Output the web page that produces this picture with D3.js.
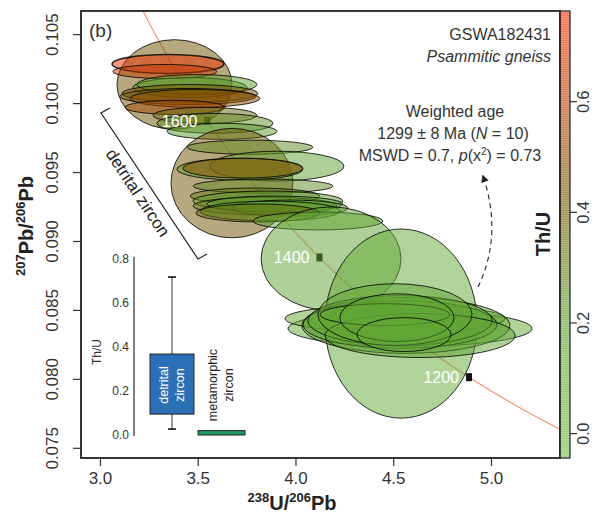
<!DOCTYPE html>
<html><head><meta charset="utf-8">
<script src="https://cdn.jsdelivr.net/npm/d3@7"></script>
<style>body{margin:0;background:#fff}svg{font-family:"Liberation Sans",Arial,sans-serif}</style>
</head><body><svg id="c" width="601" height="516"></svg>
<script>
// ---- data ----
const xTicks = [3.0, 3.5, 4.0, 4.5, 5.0];
const yTicks = [0.075, 0.080, 0.085, 0.090, 0.095, 0.100, 0.105];
const cbTicks = [0.0, 0.2, 0.4, 0.6];
const ageLabels = [1200, 1400, 1600];
// ellipse centres (238U/206Pb, 207Pb/206Pb), half axes and Th/U
const ellX  = [3.381,3.348,3.332,3.460,3.496,3.460,3.450,3.486,3.384,3.537,3.588,3.624,
               3.675,3.767,3.905,3.716,3.731,3.834,3.793,3.859,3.844,3.895,3.972,3.870,3.808,4.115,
               4.182,4.540,
               4.586,4.509,4.565,4.535,4.535,4.637,4.509,4.458,4.519,4.555];
const ellY  = [0.10135,0.10283,0.10229,0.10113,0.10135,0.10070,0.10048,0.10034,0.09969,0.09911,0.09853,0.09795,
               0.09420,0.09680,0.09543,0.09521,0.09528,0.09398,0.09326,0.09290,0.09254,0.09268,0.09239,0.09217,0.09203,0.09145,
               0.08871,0.08401,
               0.08365,0.08437,0.08387,0.08394,0.08423,0.08314,0.08466,0.08466,0.08444,0.08321];
const ellSX = [0.294,0.286,0.266,0.292,0.307,0.348,0.348,0.332,0.256,0.266,0.297,0.281,
               0.312,0.322,0.343,0.322,0.307,0.358,0.332,0.384,0.368,0.348,0.297,0.358,0.317,0.332,
               0.358,0.389,
               0.624,0.563,0.532,0.496,0.471,0.486,0.394,0.332,0.292,0.240];
const ellSY = [0.00325,0.00069,0.00051,0.00072,0.00072,0.00065,0.00058,0.00065,0.00051,0.00058,0.00072,0.00058,
               0.00397,0.00051,0.00108,0.00079,0.00072,0.00051,0.00058,0.00072,0.00065,0.00058,0.00058,0.00072,0.00065,0.00065,
               0.00376,0.00686,
               0.00130,0.00101,0.00202,0.00173,0.00181,0.00159,0.00224,0.00079,0.00173,0.00123];
const ellThU = [0.42,0.74,0.65,0.22,0.18,0.45,0.40,0.50,0.55,0.35,0.25,0.20,
                0.42,0.25,0.15,0.22,0.50,0.25,0.30,0.20,0.30,0.10,0.20,0.15,0.35,0.15,
                0.12,0.10,
                0.10,0.10,0.12,0.15,0.08,0.12,0.13,0.10,0.11,0.10];
// inset box plot of Th/U
const boxGroups = ["detrital zircon", "metamorphic zircon"];
const boxLow = [0.095, 0.0];
const boxHigh = [0.368, 0.02];
const whiskLow = [0.027, null];
const whiskHigh = [0.718, null];
const insetTicks = [0.0, 0.2, 0.4, 0.6, 0.8];

// ---- layout ----
const svg = d3.select("#c");
const L = 81, R = 560, T = 11, B = 458;
const x = d3.scaleLinear().domain([2.903, 5.353]).range([L, R]);
const y = d3.scaleLinear().domain([0.07426, 0.10668]).range([B, T]);
const col = d3.scaleLinear().domain([-0.045, 0.2, 0.42, 0.763])
  .range(["#6bb941", "#5a9a2c", "#6e5400", "#f02a00"]).interpolate(d3.interpolateRgb);
const FA = 0.5;

svg.append("defs").append("clipPath").attr("id","pc")
  .append("rect").attr("x",L).attr("y",T).attr("width",R-L).attr("height",B-T);
const plot = svg.append("g").attr("clip-path","url(#pc)");

// concordia (Tera-Wasserburg)
const l238 = 1.55125e-10, l235 = 9.8485e-10, U85 = 137.88;
const conc = t => { const a = Math.exp(l238*t*1e6)-1, b = Math.exp(l235*t*1e6)-1; return [1/a, b/a/U85]; };
const ts = d3.range(900, 2001, 5);
plot.append("path").datum(ts.map(conc))
  .attr("d", d3.line().x(d=>x(d[0])).y(d=>y(d[1])))
  .attr("fill","none").attr("stroke","#f3916f").attr("stroke-width",1.1);
plot.selectAll("rect.age").data(ageLabels).join("rect")
  .attr("x", t=>x(conc(t)[0])-3).attr("y", t=>y(conc(t)[1])-4)
  .attr("width",6).attr("height",8).attr("fill","#111");

// ellipses
plot.selectAll("ellipse.e").data(ellX.map((v,i)=>i)).join("ellipse")
  .attr("cx", i=>x(ellX[i])).attr("cy", i=>y(ellY[i]))
  .attr("rx", i=>x(ellX[i]+ellSX[i])-x(ellX[i]))
  .attr("ry", i=>y(ellY[i])-y(ellY[i]+ellSY[i]))
  .attr("fill", i=>col(ellThU[i])).attr("fill-opacity", FA)
  .attr("stroke","#000").attr("stroke-opacity",0.8).attr("stroke-width",i=>i===1?1.6:1);

// age labels
plot.selectAll("text.age").data(ageLabels).join("text")
  .attr("x", t=>x(conc(t)[0])-10).attr("y", t=>y(conc(t)[1])+6)
  .attr("text-anchor","end").attr("fill","#fff").attr("font-size",16).text(d=>d);

// frame
svg.append("rect").attr("x",L).attr("y",T).attr("width",R-L).attr("height",B-T)
  .attr("fill","none").attr("stroke","#222").attr("stroke-width",1.8);

// axes
const xa = svg.append("g").attr("transform",`translate(0,${B})`)
  .call(d3.axisBottom(x).tickValues(xTicks).tickFormat(d3.format(".1f")).tickSize(8).tickPadding(6));
xa.select(".domain").remove();
xa.selectAll("text").attr("font-size",17).attr("fill","#333").attr("font-family","Liberation Sans, Arial");
xa.selectAll("line").attr("stroke","#333").attr("stroke-width",1.2);
const ya = svg.append("g").attr("transform",`translate(${L},0)`)
  .call(d3.axisLeft(y).tickValues(yTicks).tickFormat(d3.format(".3f")).tickSize(8));
ya.select(".domain").remove();
ya.selectAll("line").attr("stroke","#333").attr("stroke-width",1.2);
ya.selectAll("text").attr("font-size",17).attr("fill","#333").attr("font-family","Liberation Sans, Arial")
  .attr("text-anchor","middle").attr("transform","rotate(-90)").attr("x",0).attr("y",-23).attr("dy","0");

// axis titles
const xt = svg.append("text").attr("x",292).attr("y",510).attr("text-anchor","middle")
  .attr("font-size",20).attr("font-weight","bold").attr("fill","#222");
xt.append("tspan").attr("font-size",13).attr("dy",-8).text("238");
xt.append("tspan").attr("dy",8).text("U/");
xt.append("tspan").attr("font-size",13).attr("dy",-8).text("206");
xt.append("tspan").attr("dy",8).text("Pb");
const yt = svg.append("text").attr("transform","translate(33,226) rotate(-90)").attr("text-anchor","middle")
  .attr("font-size",20).attr("font-weight","bold").attr("fill","#222");
yt.append("tspan").attr("font-size",13).attr("dy",-8).text("207");
yt.append("tspan").attr("dy",8).text("Pb/");
yt.append("tspan").attr("font-size",13).attr("dy",-8).text("206");
yt.append("tspan").attr("dy",8).text("Pb");

// colour bar
const cb = d3.scaleLinear().domain([-0.045, 0.763]).range([B, T]);
const steps = d3.range(0, 200);
svg.append("g").selectAll("rect").data(steps).join("rect")
  .attr("x",R).attr("width",10)
  .attr("y", i=>T+(B-T)*i/200).attr("height",(B-T)/200+0.6)
  .attr("fill", i=>col(cb.invert(T+(B-T)*(i+0.5)/200))).attr("fill-opacity",FA);
svg.append("rect").attr("x",R).attr("y",T).attr("width",10).attr("height",B-T)
  .attr("fill","none").attr("stroke","#222").attr("stroke-width",1.2);
const ca = svg.append("g").attr("transform",`translate(${R+10},0)`)
  .call(d3.axisRight(cb).tickValues(cbTicks).tickFormat(d3.format(".1f")).tickSize(7));
ca.select(".domain").remove();
ca.selectAll("line").attr("stroke","#333").attr("stroke-width",1.2);
ca.selectAll("text").attr("font-size",16).attr("fill","#333").attr("font-family","Liberation Sans, Arial")
  .attr("text-anchor","middle").attr("transform","rotate(-90)").attr("x",0).attr("y",19).attr("dy","0");
svg.append("text").attr("transform","translate(550,234) rotate(-90)").attr("text-anchor","middle")
  .attr("font-size",20).attr("font-weight","bold").attr("fill","#222").text("Th/U");

// annotations
svg.append("text").attr("x",89).attr("y",37).attr("font-size",19).attr("fill","#333").text("(b)");
svg.append("text").attr("x",551).attr("y",40).attr("text-anchor","end").attr("font-size",16).attr("fill","#333").text("GSWA182431");
svg.append("text").attr("x",551).attr("y",62).attr("text-anchor","end").attr("font-size",16).attr("font-style","italic").attr("fill","#333").text("Psammitic gneiss");
const wa = svg.append("g").attr("font-size",16).attr("fill","#333").attr("text-anchor","middle");
wa.append("text").attr("x",455).attr("y",117).text("Weighted age");
const w2 = wa.append("text").attr("x",453).attr("y",139);
w2.append("tspan").text("1299 ± 8 Ma (");
w2.append("tspan").attr("font-style","italic").text("N");
w2.append("tspan").text(" = 10)");
const w3 = wa.append("text").attr("x",450).attr("y",161);
w3.append("tspan").text("MSWD = 0.7, ");
w3.append("tspan").attr("font-style","italic").text("p");
w3.append("tspan").text("(x");
w3.append("tspan").attr("font-size",10).attr("dy",-6).text("2");
w3.append("tspan").attr("dy",6).text(") = 0.73");
// dashed arrow
svg.append("defs").append("marker").attr("id","ah").attr("viewBox","0 0 10 10").attr("refX",8).attr("refY",5)
  .attr("markerWidth",7).attr("markerHeight",7).attr("orient","auto")
  .append("path").attr("d","M0,0 L10,5 L0,10 z").attr("fill","#222");
svg.append("path").attr("d","M478,287 Q503,235 483,176").attr("fill","none").attr("stroke","#222")
  .attr("stroke-width",1.1).attr("stroke-dasharray","5,4").attr("marker-end","url(#ah)");

// detrital zircon bracket
svg.append("path").attr("d","M110,108 L101,113 L198,259 L207,254").attr("fill","none").attr("stroke","#222").attr("stroke-width",1.2);
svg.append("text").attr("transform","translate(133,196) rotate(56.5)").attr("text-anchor","middle")
  .attr("font-size",17).attr("fill","#222").text("detrital zircon");

// inset Th/U box plot
const iy = d3.scaleLinear().domain([0, 0.8]).range([435, 259]);
svg.append("line").attr("x1",134).attr("x2",134).attr("y1",iy(0.81)).attr("y2",iy(-0.005)).attr("stroke","#555").attr("stroke-width",1.5);
svg.append("g").selectAll("text").data(insetTicks).join("text")
  .attr("x",129).attr("y",d=>iy(d)+4).attr("text-anchor","end").attr("font-size",12).attr("fill","#333")
  .text(d=>d.toFixed(1));
svg.append("text").attr("transform","translate(101,352) rotate(-90)").attr("text-anchor","middle")
  .attr("font-size",12).attr("fill","#333").text("Th/U");
const bw = [44, 47];
const bx = [150, 198];
const bcol = ["#2b6fb6", "#1f9a5f"];
boxGroups.forEach((g,i)=>{
  if (whiskLow[i] !== null) {
    const cx = bx[i]+bw[i]/2;
    svg.append("line").attr("x1",cx).attr("x2",cx).attr("y1",iy(whiskHigh[i])).attr("y2",iy(whiskLow[i])).attr("stroke","#333");
    [whiskHigh[i], whiskLow[i]].forEach(v=>svg.append("line").attr("x1",cx-4).attr("x2",cx+4)
      .attr("y1",iy(v)).attr("y2",iy(v)).attr("stroke","#111").attr("stroke-width",1.6));
  }
  svg.append("rect").attr("x",bx[i]).attr("width",bw[i]).attr("y",iy(boxHigh[i]))
    .attr("height",iy(boxLow[i])-iy(boxHigh[i])).attr("fill",bcol[i]).attr("stroke","#222").attr("stroke-width",1);
});
const dt = svg.append("text").attr("transform","translate(172,385) rotate(-90)").attr("text-anchor","middle")
  .attr("font-size",12.5).attr("fill","#fff");
dt.append("tspan").attr("x",0).attr("dy",-4).text("detrital");
dt.append("tspan").attr("x",0).attr("dy",16).text("zircon");
const mt = svg.append("text").attr("transform","translate(221,385) rotate(-90)").attr("text-anchor","middle")
  .attr("font-size",12.5).attr("fill","#222");
mt.append("tspan").attr("x",0).attr("dy",-4).text("metamorphic");
mt.append("tspan").attr("x",0).attr("dy",16).text("zircon");
</script></body></html>
